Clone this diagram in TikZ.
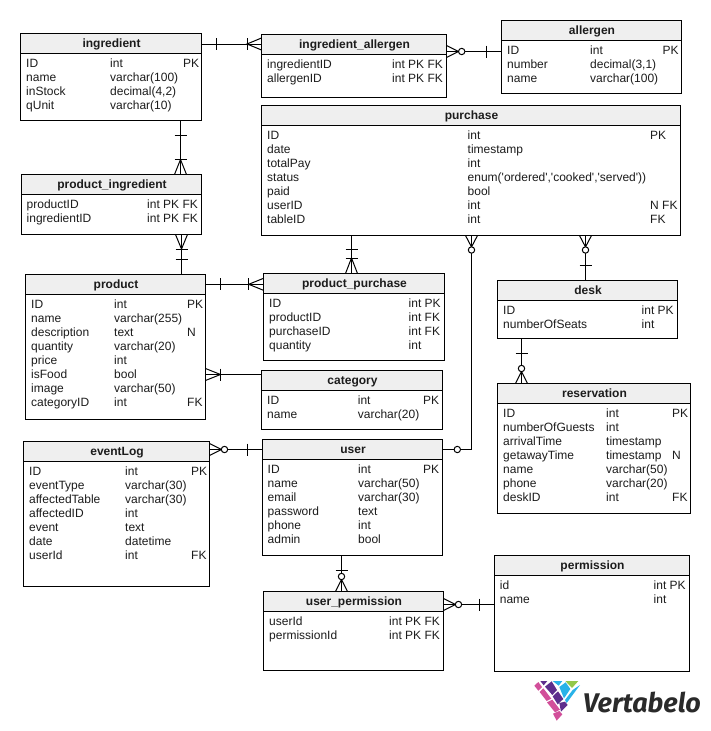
\documentclass[tikz,border=0pt]{standalone}
\usepackage{fontspec}
\setmainfont{Liberation Sans}
\newfontfamily\logofont{Fira Sans}
\definecolor{hdr}{HTML}{EFEFEF}
\definecolor{ink}{HTML}{1C1C1C}
\definecolor{logop}{HTML}{D24F9A}
\definecolor{logov}{HTML}{5D2E8C}
\definecolor{logob}{HTML}{29B2E8}
\definecolor{logog}{HTML}{92C84A}
\definecolor{logot}{HTML}{2A2A2A}
\newcount\rowno
\newcount\rowbase
\def\colA{0}\def\colB{0}\def\colC{0}\def\tblname{t}
\newcommand{\Tbl}[7]{% name x1 y1 x2 y2 title first-baseline
  \pgfmathsetmacro{\tw}{#4-#2}\pgfmathsetmacro{\th}{#5-#3}
  \node[tblbox,minimum width=\tw pt,minimum height=\th pt] (#1) at (#2,#3) {};
  \fill[hdr] (#2,#3) rectangle (#4,#3+20);
  \draw[tblline] (#2,#3+20) -- (#4,#3+20);
  \draw[tblline] (#2,#3) rectangle (#4,#5);
  \node[tbltitle] (#1-title) at ({(#2+#4)/2+0.5},#3+14.3) {#6};
  \def\tblname{#1}\rowno=0 \rowbase=#7\relax
}
\newcommand{\Cols}[3]{\def\colA{#1}\def\colB{#2}\def\colC{#3}}
\newcommand{\R}[3]{%
  \advance\rowno by 1
  \node[cell] (\tblname-a\the\rowno) at (\colA,\the\rowbase) {#1};
  \node[cell] (\tblname-b\the\rowno) at (\colB,\the\rowbase) {#2};
  \if\relax\detokenize{#3}\relax\else
    \node[cell] (\tblname-c\the\rowno) at (\colC,\the\rowbase) {#3};
  \fi
  \advance\rowbase by 14
}
% markers
\newcommand{\HBar}[2]{\draw[conn] (#1,#2-6) -- (#1,#2+6);}
\newcommand{\VBar}[2]{\draw[conn] (#1-6,#2) -- (#1+6,#2);}
\newcommand{\HCrow}[3]{\draw[conn] (#3,#2-6) -- (#1,#2) -- (#3,#2+6);}
\newcommand{\VCrow}[3]{\draw[conn] (#1-6,#3) -- (#1,#2) -- (#1+6,#3);}
\newcommand{\Ring}[2]{\draw[conn,fill=white] (#1,#2) circle[radius=3.2pt];}
\tikzset{
  tblline/.style={line width=1pt,black},
  conn/.style={line width=1pt,black},
  tblbox/.style={anchor=north west,inner sep=0pt,outer sep=0pt,draw=none},
  tbltitle/.style={anchor=base,inner sep=0pt,font=\fontsize{12}{14}\selectfont\bfseries,text=ink},
  cell/.style={anchor=base west,inner sep=0pt,font=\fontsize{12}{14}\selectfont,text=ink},
  logotext/.style={anchor=base west,inner sep=0pt,font=\logofont\fontsize{27}{30}\selectfont\bfseries\itshape,text=logot},
}
\begin{document}
\begin{tikzpicture}[x=1pt,y=-1pt]
\useasboundingbox (0,0) rectangle (710,731);
\fill[white] (0,0) rectangle (710,731);

\Tbl{ingredient}{20.5}{33.5}{201.5}{120}{ingredient}{67}
\Cols{26}{110}{183}
\R{ID}{int}{PK}
\R{name}{varchar(100)}{}
\R{inStock}{decimal(4,2)}{}
\R{qUnit}{varchar(10)}{}

\Tbl{ingredientallergen}{261.5}{34.5}{446.5}{97.5}{ingredient\_allergen}{68}
\Cols{267}{392}{0}
\R{ingredientID}{int PK FK}{}
\R{allergenID}{int PK FK}{}

\Tbl{allergen}{501.5}{20.5}{681.5}{93}{allergen}{54}
\Cols{507}{590}{662.5}
\R{ID}{int}{PK}
\R{number}{decimal(3,1)}{}
\R{name}{varchar(100)}{}

\Tbl{purchase}{261.5}{105.5}{680.5}{235.5}{purchase}{139}
\Cols{267}{467.5}{650}
\R{ID}{int}{PK}
\R{date}{timestamp}{}
\R{totalPay}{int}{}
\R{status}{enum(\textquotesingle ordered\textquotesingle,\textquotesingle cooked\textquotesingle,\textquotesingle served\textquotesingle))}{}
\R{paid}{bool}{}
\R{userID}{int}{N FK}
\R{tableID}{int}{FK}

\Tbl{productingredient}{21.5}{174.5}{201.5}{234.5}{product\_ingredient}{208}
\Cols{26.5}{147}{0}
\R{productID}{int PK FK}{}
\R{ingredientID}{int PK FK}{}

\Tbl{product}{25.5}{274.5}{205.5}{419}{product}{308}
\Cols{31}{114}{187}
\R{ID}{int}{PK}
\R{name}{varchar(255)}{}
\R{description}{text}{N}
\R{quantity}{varchar(20)}{}
\R{price}{int}{}
\R{isFood}{bool}{}
\R{image}{varchar(50)}{}
\R{categoryID}{int}{FK}

\Tbl{productpurchase}{263.5}{273.5}{444.5}{360}{product\_purchase}{307}
\Cols{269}{408.5}{0}
\R{ID}{int PK}{}
\R{productID}{int FK}{}
\R{purchaseID}{int FK}{}
\R{quantity}{int}{}

\Tbl{category}{261.5}{370.5}{442.5}{429.5}{category}{404}
\Cols{267}{357.7}{423}
\R{ID}{int}{PK}
\R{name}{varchar(20)}{}

\Tbl{eventLog}{23.5}{441.5}{209.5}{586}{eventLog}{475}
\Cols{29}{125}{191}
\R{ID}{int}{PK}
\R{eventType}{varchar(30)}{}
\R{affectedTable}{varchar(30)}{}
\R{affectedID}{int}{}
\R{event}{text}{}
\R{date}{datetime}{}
\R{userId}{int}{FK}

\Tbl{user}{262.5}{439.5}{442.5}{555}{user}{473}
\Cols{267.5}{358}{423}
\R{ID}{int}{PK}
\R{name}{varchar(50)}{}
\R{email}{varchar(30)}{}
\R{password}{text}{}
\R{phone}{int}{}
\R{admin}{bool}{}

\Tbl{desk}{497.5}{280.5}{677.5}{338.5}{desk}{314}
\Cols{503}{641.5}{0}
\R{ID}{int PK}{}
\R{numberOfSeats}{int}{}

\Tbl{reservation}{497.5}{383.5}{690.5}{513.5}{reservation}{417}
\Cols{503}{606}{672}
\R{ID}{int}{PK}
\R{numberOfGuests}{int}{}
\R{arrivalTime}{timestamp}{}
\R{getawayTime}{timestamp}{N}
\R{name}{varchar(50)}{}
\R{phone}{varchar(20)}{}
\R{deskID}{int}{FK}

\Tbl{permission}{494.5}{555.5}{689.5}{671.5}{permission}{589}
\Cols{499.7}{653.5}{0}
\R{id}{int PK}{}
\R{name}{int}{}

\Tbl{userpermission}{263.5}{591.5}{443.5}{670.5}{user\_permission}{625}
\Cols{269}{389}{0}
\R{userId}{int PK FK}{}
\R{permissionId}{int PK FK}{}

% connectors
\draw[conn] (ingredient.north east |- 0,44) -- (ingredientallergen.north west |- 0,44);
\HBar{216.5}{44}\HBar{247}{44}\HCrow{247}{44}{261.5}

\draw[conn] (ingredientallergen.north east |- 0,51.5) -- (allergen.north west |- 0,51.5);
\HCrow{458.5}{51.5}{446.5}\Ring{461.7}{51.5}\HBar{486.3}{51.5}

\draw[conn] (ingredient.south west -| 180.5,0) -- (productingredient.north west -| 180.5,0);
\VBar{180.5}{135}\VBar{180.5}{159.5}\VCrow{180.5}{159.5}{174.5}

\draw[conn] (productingredient.south west -| 181.5,0) -- (product.north west -| 181.5,0);
\VCrow{181.5}{249}{234.5}\VBar{181.5}{249}\VBar{181.5}{259}

\draw[conn] (product.north east |- 0,284.3) -- (productpurchase.north west |- 0,284.3);
\HBar{220}{284.3}\HBar{248.7}{284.3}\HCrow{248.7}{284.3}{263.5}

\draw[conn] (purchase.south west -| 351.5,0) -- (productpurchase.north west -| 351.5,0);
\VBar{351.5}{249.5}\VBar{351.5}{258}\VCrow{351.5}{258}{273.5}

\draw[conn] (purchase.south west -| 471.5,0) -- (471.5,449.5) -- (user.north east |- 0,449.5);
\VCrow{471.5}{247}{235.5}\Ring{471.5}{250}\Ring{457.3}{449.5}

\draw[conn] (purchase.south west -| 585.5,0) -- (desk.north west -| 585.5,0);
\VCrow{585.5}{247}{235.5}\Ring{585.5}{250}\VBar{585.5}{265}

\draw[conn] (desk.south west -| 521.5,0) -- (reservation.north west -| 521.5,0);
\VBar{521.5}{353.5}\VCrow{521.5}{371.5}{383.5}\Ring{521.5}{368.5}

\draw[conn] (product.north east |- 0,374.5) -- (category.north west |- 0,374.5);
\HCrow{220.5}{374.5}{205.5}\HBar{220.5}{374.5}

\draw[conn] (eventLog.north east |- 0,449.5) -- (user.north west |- 0,449.5);
\HCrow{221.5}{449.5}{209.5}\Ring{224.5}{449.5}\HBar{247.5}{449.5}

\draw[conn] (user.south west -| 341.5,0) -- (userpermission.north west -| 341.5,0);
\VBar{341.5}{570.5}\VCrow{341.5}{579.5}{591.5}\Ring{341.5}{576.5}

\draw[conn] (userpermission.north east |- 0,604.5) -- (permission.north west |- 0,604.5);
\HCrow{455.5}{604.5}{443.5}\Ring{458.5}{604.5}\HBar{479.5}{604.5}

% logo
\begin{scope}[shift={(525,675)},x=0.3333pt,y=-0.3333pt]
  \fill[logop] (28,32) -- (40,21) -- (51,36) -- (40,47) -- cycle;
  \fill[logov] (46,18) -- (67,18) -- (56,31) -- cycle;
  \fill[logop] (44,51) -- (55,40) -- (79,71) -- (65,78) -- cycle;
  \fill[logov] (60,35) -- (80,19) -- (96,45) -- (82,60) -- cycle;
  \fill[logob] (83,18) -- (112,18) -- (101,32) -- cycle;
  \fill[logov] (83,64) -- (99,49) -- (115,72) -- (98,88) -- cycle;
  \fill[logob] (103,36) -- (122,22) -- (136,42) -- (117,70) -- cycle;
  \fill[logog] (121,18) -- (160,18) -- (141,39) -- cycle;
  \fill[logob] (143,45) -- (165,30) -- (125,84) -- (120,75) -- cycle;
  \fill[logop] (66,82) -- (82,74) -- (105,104) -- (90,112) -- cycle;
  \fill[logov] (103,84) -- (120,80) -- (128,90) -- (108,110) -- cycle;
  \fill[logop] (84,116) -- (103,108) -- (112,118) -- (95,137) -- cycle;
\end{scope}
\node[logotext] (logoword) at (583,712) {Vertabelo};
\end{tikzpicture}
\end{document}
